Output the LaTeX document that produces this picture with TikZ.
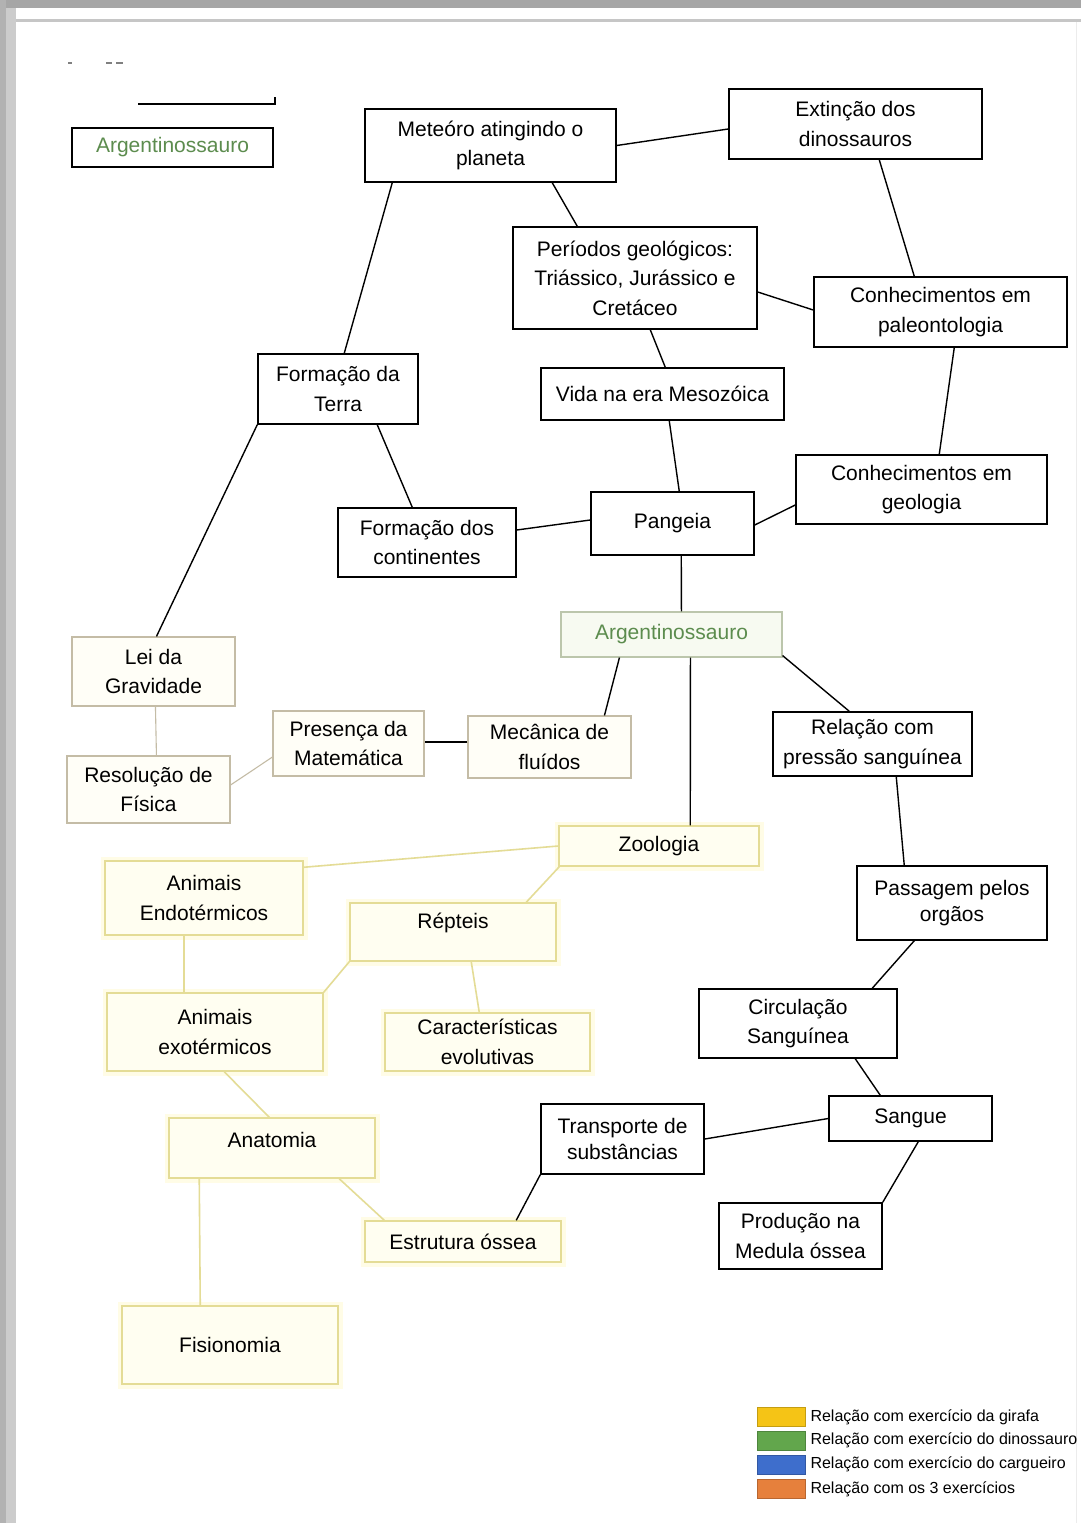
\documentclass[tikz,border=0pt]{standalone}
\usepackage{fontspec}
\setmainfont{Liberation Sans}
\usepackage{xcolor}
\definecolor{dmgreen}{RGB}{92,140,78}
\definecolor{dmyline}{RGB}{228,220,150}
\definecolor{dmcream}{RGB}{255,254,241}
\definecolor{dmhalo}{RGB}{255,252,230}
\definecolor{dmtan}{RGB}{196,188,166}
\definecolor{dmpalegreen}{RGB}{247,250,241}
\definecolor{dmgline}{RGB}{188,198,172}
\definecolor{dmlegyellow}{RGB}{245,196,22}
\definecolor{dmleggreen}{RGB}{98,166,76}
\definecolor{dmlegblue}{RGB}{62,110,204}
\definecolor{dmlegorange}{RGB}{230,128,60}
\newcommand\boxfont{\fontsize{21}{29.5}\selectfont}
\newcommand\legfont{\fontsize{16}{18}\selectfont}
\usetikzlibrary{positioning}

\begin{document}
\begin{tikzpicture}[x=1pt,y=-1pt,
  sz/.style 2 args={minimum width=#1pt,minimum height=#2pt},
  box/.style={draw=black,line width=1.5pt,fill=white,inner sep=0pt,align=center,font=\boxfont},
  tanbox/.style={box,draw=dmtan,line width=1.1pt,fill=dmcream!60},
  ybox/.style={box,draw=dmyline,fill=dmcream,preaction={draw=dmhalo,line width=9pt}},
  gbox/.style={box,draw=dmgline,line width=1.1pt,fill=dmpalegreen,text=dmgreen},
  link/.style={draw=black,line width=1.4pt},
  ylink/.style={draw=dmyline,line width=1.6pt},
  tlink/.style={draw=dmtan,line width=1.1pt},
  legbox/.style={draw=#1!80!black,line width=0.6pt,fill=#1,minimum width=48pt,minimum height=19pt,inner sep=0pt},
  legtext/.style={anchor=west,inner sep=0pt,font=\legfont}]
  \useasboundingbox (0,0) rectangle (1081,1523);
  % page frame of the screenshot
  \fill[white] (0,0) rectangle (1081,1523);
  \fill[gray!70] (0,0) rectangle (1081,8);
  \fill[gray!60] (0,0) rectangle (6,1523);
  \fill[gray!40] (6,8) rectangle (16,1523);
  \draw[gray!45,line width=3pt] (16,20) -- (1081,20);
  \draw[gray!15,line width=1pt] (1076,22) -- (1076,1523);
  % remains at the top left
  \draw[gray,line width=1.2pt] (68,63) -- (72,63) (106,63) -- (112,63) (116,63) -- (123,63);
  \draw[black,line width=1.3pt] (138,104) -- (275,104) -- (275,97);

  % nodes
  \node[box,sz={201}{39},text=dmgreen,line width=1.8pt] (argtop) at (172.5,147.5) {Argentinossauro};
  \node[box,sz={251}{73}] (met) at (490.5,145.5) {Meteóro atingindo o\\planeta};
  \node[box,sz={253}{70}] (ext) at (855.5,124) {Extinção dos\\dinossauros};
  \node[box,sz={244}{102}] (per) at (635,278) {Períodos geológicos:\\Triássico, Jurássico e\\Cretáceo};
  \node[box,sz={253}{70}] (paleo) at (940.5,312) {Conhecimentos em\\paleontologia};
  \node[box,sz={160}{70}] (terra) at (338,389) {Formação da\\Terra};
  \node[box,sz={243}{52}] (vida) at (662.5,394) {Vida na era Mesozóica};
  \node[box,sz={251}{69}] (geo) at (921.5,489.5) {Conhecimentos em\\geologia};
  \node[box,sz={178}{69}] (cont) at (427,542.5) {Formação dos\\continentes};
  \node[box,sz={163}{63}] (pang) at (672.5,523.5) {Pangeia};
  \node[gbox,sz={221}{45}] (arg) at (671.5,634.5) {Argentinossauro};
  \node[tanbox,sz={163}{69}] (lei) at (153.5,671.5) {Lei da\\Gravidade};
  \node[tanbox,sz={151}{65}] (mat) at (348.5,743.5) {Presença da\\Matemática};
  \node[tanbox,sz={163}{62}] (flu) at (549.5,747) {Mecânica de\\fluídos};
  \node[box,sz={199}{64}] (pres) at (872.5,744) {Relação com\\pressão sanguínea};
  \node[tanbox,sz={163}{67}] (fis) at (148.5,789.5) {Resolução de\\Física};
  \node[ybox,sz={200}{40}] (zoo) at (659,846) {Zoologia};
  \node[ybox,sz={198}{74}] (endo) at (204,898) {Animais\\Endotérmicos};
  \node[ybox,sz={206}{58}] (rep) at (453,932) {Répteis\\[-7pt]};
  \node[box,sz={190}{74}] (pass) at (952,903) {Passagem pelos\\[-3pt]orgãos};
  \node[ybox,sz={216}{78}] (exo) at (215,1032) {Animais\\exotérmicos};
  \node[ybox,sz={205}{58}] (carac) at (487.5,1042) {Características\\evolutivas};
  \node[box,sz={198}{69}] (circ) at (798,1023.5) {Circulação\\Sanguínea};
  \node[ybox,sz={206}{60}] (anat) at (272,1148) {Anatomia\\[-13pt]};
  \node[box,sz={163}{70}] (transp) at (622.5,1139) {Transporte de\\[-3pt]substâncias};
  \node[box,sz={163}{45}] (sang) at (910.5,1118.5) {Sangue};
  \node[ybox,sz={196}{41}] (ossea) at (463,1241.5) {Estrutura óssea};
  \node[box,sz={163}{66}] (medula) at (800.5,1236) {Produção na\\Medula óssea};
  \node[ybox,sz={216}{78}] (fisio) at (230,1345) {Fisionomia};

  % black links
  \draw[link] (met.east) -- ([yshift=-5pt]ext.west);
  \draw[link] ([xshift=188pt]met.south west) -- ([xshift=65pt]per.north west);
  \draw[link] ([xshift=28pt]met.south west) -- ([xshift=87pt]terra.north west);
  \draw[link] ([xshift=151pt]ext.south west) -- ([xshift=101pt]paleo.north west);
  \draw[link] ([yshift=-14pt]per.east) -- ([yshift=2pt]paleo.west);
  \draw[link] ([xshift=138pt]per.south west) -- ([xshift=125pt]vida.north west);
  \draw[link] ([xshift=141pt]paleo.south west) -- ([xshift=144pt]geo.north west);
  \draw[link] ([xshift=120pt]terra.south west) -- ([xshift=75pt]cont.north west);
  \draw[link] (terra.south west) -- ([xshift=85pt]lei.north west);
  \draw[link] ([xshift=129pt]vida.south west) -- ([xshift=89pt]pang.north west);
  \draw[link] ([yshift=3.5pt]pang.west) -- ([yshift=12.5pt]cont.east);
  \draw[link] ([yshift=-1.5pt]pang.east) -- ([yshift=-15.5pt]geo.west);
  \draw[link] ([xshift=91pt]pang.south west) -- ([xshift=121pt]arg.north west);
  \draw[link] ([xshift=59pt]arg.south west) -- ([xshift=137pt]flu.north west);
  \draw[link] ([yshift=2pt]arg.south east) -- ([xshift=77pt]pres.north west);
  \draw[link] ([xshift=130pt]arg.south west) -- ([xshift=132pt]zoo.north west);
  \draw[link] ([yshift=5pt]flu.west) -- ([yshift=1.5pt]mat.east);
  \draw[link] ([xshift=124pt]pres.south west) -- ([xshift=48pt]pass.north west);
  \draw[link] ([xshift=58pt]pass.south west) -- ([xshift=174pt]circ.north west);
  \draw[link] ([xshift=157pt]circ.south west) -- ([xshift=52pt]sang.north west);
  \draw[link] (sang.west) -- (transp.east);
  \draw[link] ([xshift=90pt]sang.south west) -- (medula.north east);
  \draw[link] (transp.south west) -- ([xshift=152pt]ossea.north west);
  % pale links
  \draw[tlink] ([yshift=-13.5pt]mat.west) -- ([yshift=4.5pt]fis.east);
  \draw[tlink] ([xshift=84pt]lei.south west) -- ([xshift=90pt]fis.north west);
  % yellow links
  \draw[ylink] (zoo.west) -- ([yshift=-7pt]endo.north east);
  \draw[ylink] ([xshift=1pt]zoo.south west) -- ([xshift=177pt]rep.north west);
  \draw[ylink] (rep.south west) -- (exo.north east);
  \draw[ylink] ([xshift=122pt]rep.south west) -- ([xshift=95pt]carac.north west);
  \draw[ylink] ([xshift=80pt]endo.south west) -- ([xshift=78pt]exo.north west);
  \draw[ylink] ([xshift=118pt]exo.south west) -- ([xshift=101pt]anat.north west);
  \draw[ylink] ([xshift=31pt]anat.south west) -- ([xshift=79pt]fisio.north west);
  \draw[ylink] ([xshift=171pt]anat.south west) -- ([xshift=20pt]ossea.north west);

  % legend
  \node[legbox=dmlegyellow] (legy) at (781,1417) {};
  \node[legbox=dmleggreen] (legg) at (781,1440.5) {};
  \node[legbox=dmlegblue] (legb) at (781,1464.5) {};
  \node[legbox=dmlegorange] (lego) at (781,1489) {};
  \node[legtext,right=5pt of legy] (legyt) {Relação com exercício da girafa};
  \node[legtext,right=5pt of legg] (leggt) {Relação com exercício do dinossauro};
  \node[legtext,right=5pt of legb] (legbt) {Relação com exercício do cargueiro};
  \node[legtext,right=5pt of lego] (legot) {Relação com os 3 exercícios};
\end{tikzpicture}
\end{document}
